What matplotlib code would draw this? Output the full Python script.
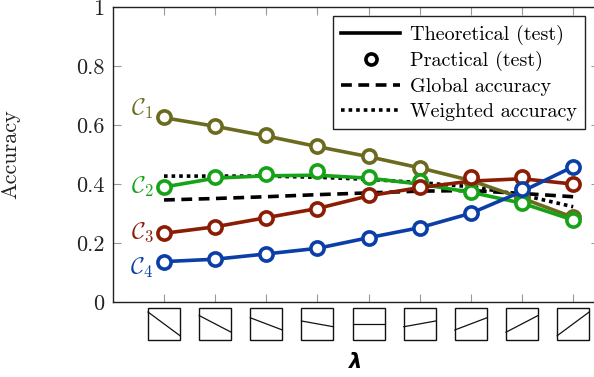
import numpy as np
import matplotlib.pyplot as plt
from matplotlib.lines import Line2D
from matplotlib.patches import Rectangle
import matplotlib.transforms as mtransforms

plt.rcParams['font.family'] = 'cmr10'
plt.rcParams['mathtext.fontset'] = 'cm'
plt.rcParams['axes.formatter.use_mathtext'] = True

# data
lam = [1, 2, 3, 4, 5, 6, 7, 8, 9]
# slope of the little line drawn in each tick icon (left-edge offset from centre)
icon_tilt = [0.37, 0.26, 0.19, 0.09, 0.0, -0.09, -0.19, -0.26, -0.37]

c1_theo = [0.625, 0.596, 0.563, 0.527, 0.493, 0.455, 0.412, 0.352, 0.287]
c1_prac = [0.628, 0.598, 0.565, 0.529, 0.495, 0.455, 0.414, 0.352, 0.287]
c2_theo = [0.390, 0.420, 0.428, 0.430, 0.420, 0.400, 0.372, 0.335, 0.278]
c2_prac = [0.391, 0.423, 0.434, 0.444, 0.423, 0.411, 0.374, 0.335, 0.278]
c3_theo = [0.233, 0.255, 0.286, 0.317, 0.360, 0.388, 0.410, 0.418, 0.400]
c3_prac = [0.233, 0.255, 0.286, 0.317, 0.363, 0.389, 0.425, 0.423, 0.400]
c4_theo = [0.137, 0.145, 0.163, 0.182, 0.218, 0.252, 0.301, 0.375, 0.459]
c4_prac = [0.137, 0.145, 0.163, 0.182, 0.218, 0.252, 0.301, 0.382, 0.459]
global_acc = [0.346, 0.351, 0.357, 0.364, 0.370, 0.376, 0.378, 0.368, 0.357]
weighted_acc = [0.427, 0.427, 0.427, 0.423, 0.416, 0.405, 0.391, 0.363, 0.323]

classes = [r'$\mathcal{C}_1$', r'$\mathcal{C}_2$', r'$\mathcal{C}_3$', r'$\mathcal{C}_4$']
label_y = [0.655, 0.39, 0.235, 0.115]
colors = ['#6b6b1f', '#17a317', '#8b1d05', '#0b3ea6']
yticks = [0, 0.2, 0.4, 0.6, 0.8, 1]
ytick_labels = ['0', '0.2', '0.4', '0.6', '0.8', '1']

fig = plt.figure(figsize=(5.94, 3.77), dpi=100)
ax = fig.add_axes([0.19, 0.199, 0.818, 0.782])

ax.plot(lam, global_acc, color='black', lw=2.6, ls=(0, (3.0, 1.8)))
ax.plot(lam, weighted_acc, color='black', lw=2.6, ls=(0, (1.0, 1.1)))

theo = [c1_theo, c2_theo, c3_theo, c4_theo]
prac = [c1_prac, c2_prac, c3_prac, c4_prac]
for t, p, c, name, ly in zip(theo, prac, colors, classes, label_y):
    ax.plot(lam, t, color=c, lw=2.6, solid_capstyle='round')
    ax.plot(lam, p, ls='none', marker='o', ms=9.5, mfc='white', mec=c, mew=2.6)
    ax.text(0.8, ly, name, color=c, fontsize=17, ha='right', va='center')

ax.set_xlim(0, 9.5)
ax.set_ylim(0, 1)
ax.set_xticks(lam)
ax.set_xticklabels([''] * len(lam))
ax.set_yticks(yticks)
ax.set_yticklabels(ytick_labels)
ax.tick_params(direction='in', length=6, width=0.8, color='#999999',
               top=True, right=True, labelsize=16, labelcolor='#222222', pad=6)
for s in ax.spines.values():
    s.set_linewidth(1.0)
    s.set_color('#222222')

# icon tick labels
trans = mtransforms.blended_transform_factory(ax.transData, ax.transAxes)
bw = 0.625
bh = 0.1085
btop = -0.02
for x, d in zip(lam, icon_tilt):
    ax.add_patch(Rectangle((x - bw / 2, btop - bh), bw, bh, transform=trans,
                           fill=False, ec='#111111', lw=1.0, clip_on=False))
    ym = btop - bh / 2
    ax.add_line(Line2D([x - bw / 2, x + bw / 2], [ym + d * bh, ym - d * bh],
                       transform=trans, color='#111111', lw=0.9, clip_on=False))

ax.text(0.5, -0.205, 'λ', transform=ax.transAxes, ha='center', va='center',
        fontsize=15, fontfamily='DejaVu Sans', fontweight='bold', fontstyle='italic')
ax.set_ylabel('Accuracy', fontsize=16, color='#222222')
ax.yaxis.set_label_coords(-0.19, 0.5)

handles = [
    Line2D([], [], color='black', lw=2.6),
    Line2D([], [], ls='none', marker='o', ms=8, mfc='white', mec='black', mew=2.6),
    Line2D([], [], color='black', lw=2.6, ls=(0, (3.0, 1.8))),
    Line2D([], [], color='black', lw=2.6, ls=(0, (1.0, 1.1))),
]
leg = ax.legend(handles, ['Theoretical (test)', 'Practical (test)', 'Global accuracy',
                          'Weighted accuracy'],
                loc='upper right', bbox_to_anchor=(0.98, 0.982), fontsize=14.5,
                fancybox=False, framealpha=1, edgecolor='#222222',
                handlelength=2.9, handletextpad=0.5, borderpad=0.4, labelspacing=0.33,
                borderaxespad=0.2)
leg.get_frame().set_linewidth(1.0)

fig.savefig('out.png', dpi=100)
